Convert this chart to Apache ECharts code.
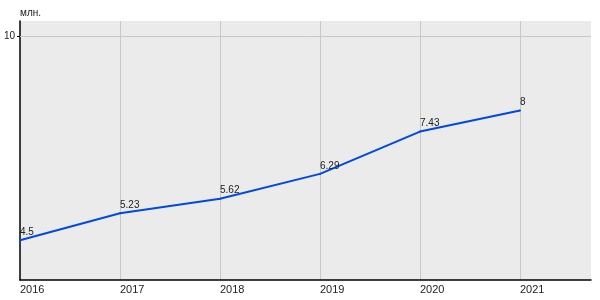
<!DOCTYPE html>
<html>
<head>
<meta charset="utf-8">
<script src="https://cdn.jsdelivr.net/npm/echarts@6/dist/echarts.min.js"></script>
<style>html,body{margin:0;padding:0;background:#fff}#c{width:600px;height:300px}</style>
</head>
<body>
<div id="c"></div>
<script>
const years = [2016, 2017, 2018, 2019, 2020, 2021];
const values = [4.5, 5.23, 5.62, 6.29, 7.43, 8];
const yTickValues = [10];
const unitName = 'млн.';

const chart = echarts.init(document.getElementById('c'), null, {renderer: 'canvas'});
const font = 'Liberation Sans, Arial, sans-serif';
chart.setOption({
  animation: false,
  grid: {left: 20, top: 21, right: 9, bottom: 20, show: true, backgroundColor: '#ebebeb', borderWidth: 0},
  xAxis: {
    type: 'value', min: 2016, max: 2021.71, interval: 1,
    axisLine: {show: true, onZero: false, lineStyle: {color: '#000', width: 1.5}},
    axisTick: {show: false},
    axisLabel: {customValues: years, color: '#222', fontFamily: font, fontSize: 11, align: 'left', margin: 4, formatter: v => String(v)},
    splitLine: {show: true, showMinLine: false, showMaxLine: false, lineStyle: {color: '#c8c8c8', width: 1}}
  },
  yAxis: {
    type: 'value', min: 3.43, max: 10.41, interval: 10,
    name: unitName, nameLocation: 'end', nameGap: 3,
    nameTextStyle: {color: '#222', fontFamily: font, fontSize: 10, align: 'left', padding: [0, 0, 0, 0]},
    axisLine: {show: true, onZero: false, lineStyle: {color: '#000', width: 1.5}},
    axisTick: {show: true, customValues: yTickValues, length: 3, lineStyle: {color: '#000'}},
    axisLabel: {customValues: yTickValues, color: '#222', fontFamily: font, fontSize: 10, margin: 5, padding: [0, 0, 3, 0]},
    splitLine: {show: false}
  },
  series: [{
    type: 'line',
    data: years.map((y, i) => [y, values[i]]),
    showSymbol: true, symbol: 'circle', symbolSize: 2,
    itemStyle: {color: '#0049e0'},
    lineStyle: {color: '#0049e0', width: 2},
    label: {show: true, position: 'top', align: 'left', distance: 2, color: '#222', fontFamily: font, fontSize: 10, formatter: p => String(p.value[1])},
    markLine: {
      silent: true, symbol: 'none', label: {show: false},
      lineStyle: {color: '#c8c8c8', width: 1, type: 'solid'},
      data: yTickValues.map(v => ({yAxis: v}))
    },
    z: 3
  }]
});
</script>
</body>
</html>
